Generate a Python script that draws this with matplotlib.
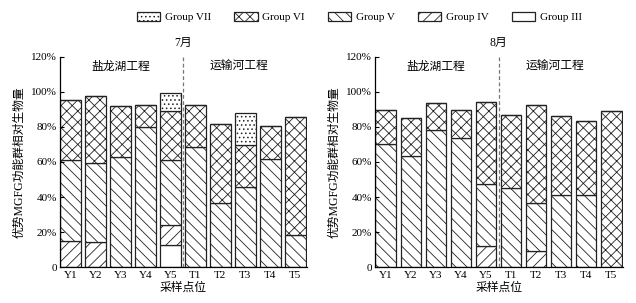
import matplotlib
matplotlib.use("Agg")
import matplotlib.pyplot as plt
import numpy as np

plt.rcParams['font.family'] = ['Liberation Serif', 'Noto Sans CJK SC']
plt.rcParams['hatch.linewidth'] = 0.6
plt.rcParams['hatch.color'] = '#333333'

sites = ['Y1', 'Y2', 'Y3', 'Y4', 'Y5', 'T1', 'T2', 'T3', 'T4', 'T5']
groups = ['Group III', 'Group IV', 'Group V', 'Group VI', 'Group VII']
hatches = ['', '///', '\\\\\\', 'xxx', '....']

# July, % of biomass per group (stacked bottom to top)
jul_III = [0, 0, 0, 0, 12.8, 0, 0, 0, 0, 0]
jul_IV = [15.0, 14.1, 0, 0, 11.4, 0, 0, 0, 0, 0]
jul_V = [46.3, 45.5, 62.9, 80.0, 37.1, 68.4, 36.8, 45.9, 61.9, 18.5]
jul_VI = [33.9, 38.3, 28.9, 12.6, 27.7, 24.2, 44.9, 23.6, 18.9, 67.4]
jul_VII = [0, 0, 0, 0, 10.6, 0, 0, 18.7, 0, 0]

# August
aug_III = [0, 0, 0, 0, 0, 0, 0, 0, 0, 0]
aug_IV = [0, 0, 0, 0, 12.2, 0, 9.3, 0, 0, 0]
aug_V = [70.1, 63.4, 78.5, 73.9, 35.0, 45.1, 27.3, 41.0, 41.3, 0]
aug_VI = [19.8, 21.6, 15.4, 15.8, 46.9, 41.9, 56.2, 45.5, 42.3, 89.3]
aug_VII = [0, 0, 0, 0, 0, 0, 0, 0, 0, 0]

months = ['7月', '8月']
data = [[jul_III, jul_IV, jul_V, jul_VI, jul_VII],
        [aug_III, aug_IV, aug_V, aug_VI, aug_VII]]
projects = ['盐龙湖工程', '运输河工程']

fig = plt.figure(figsize=(6.36, 3.03), dpi=100)
ax1 = fig.add_axes([0.0943, 0.1188, 0.3884, 0.6931])
ax2 = fig.add_axes([0.5896, 0.1188, 0.3900, 0.6931])

x = np.arange(len(sites))
handles = []
for ax, month, series in zip([ax1, ax2], months, data):
    bottom = np.zeros(len(sites))
    hs = []
    for vals, name, h in zip(series, groups, hatches):
        vals = np.array(vals, dtype=float)
        b = ax.bar(x, vals, 0.82, bottom=bottom, color='white',
                   edgecolor='#222222', linewidth=0.9, hatch=h, label=name)
        hs.append(b)
        bottom += vals
    handles = hs
    ax.axvline(4.5, color='#777777', linestyle=(0, (3, 2)), linewidth=0.9)
    ax.set_xlim(-0.43, 9.47)
    ax.set_ylim(0, 120)
    ax.set_yticks(range(0, 121, 20))
    ax.set_yticklabels(['0'] + ['%d%%' % v for v in range(20, 121, 20)])
    ax.set_xticks(x)
    ax.set_xticklabels(sites)
    ax.tick_params(axis='y', direction='in', length=3, labelsize=8, pad=2)
    ax.tick_params(axis='x', length=0, labelsize=8, pad=3)
    for s in ['top', 'right']:
        ax.spines[s].set_visible(False)
    for s in ['left', 'bottom']:
        ax.spines[s].set_linewidth(0.9)
    ax.set_xlabel('采样点位', fontsize=8.5, labelpad=1)
    ax.set_ylabel('优势MGFG功能群相对生物量', fontsize=8.5, labelpad=4)
    ax.text(2.0, 114.5, projects[0], ha='center', va='center', fontsize=8.5)
    ax.text(6.75, 114.5, projects[1], ha='center', va='center', fontsize=8.5)
    ax.text(4.5, 128, month, ha='center', va='center', fontsize=8.5, clip_on=False)

order = handles[::-1]
fig.legend(order, [h.get_label() for h in order], loc='center',
           bbox_to_anchor=(0.565, 0.944), ncol=5, frameon=False, fontsize=8,
           handlelength=2.1, handleheight=0.9, handletextpad=0.4,
           columnspacing=2.1)

fig.savefig('out.png', dpi=100)
